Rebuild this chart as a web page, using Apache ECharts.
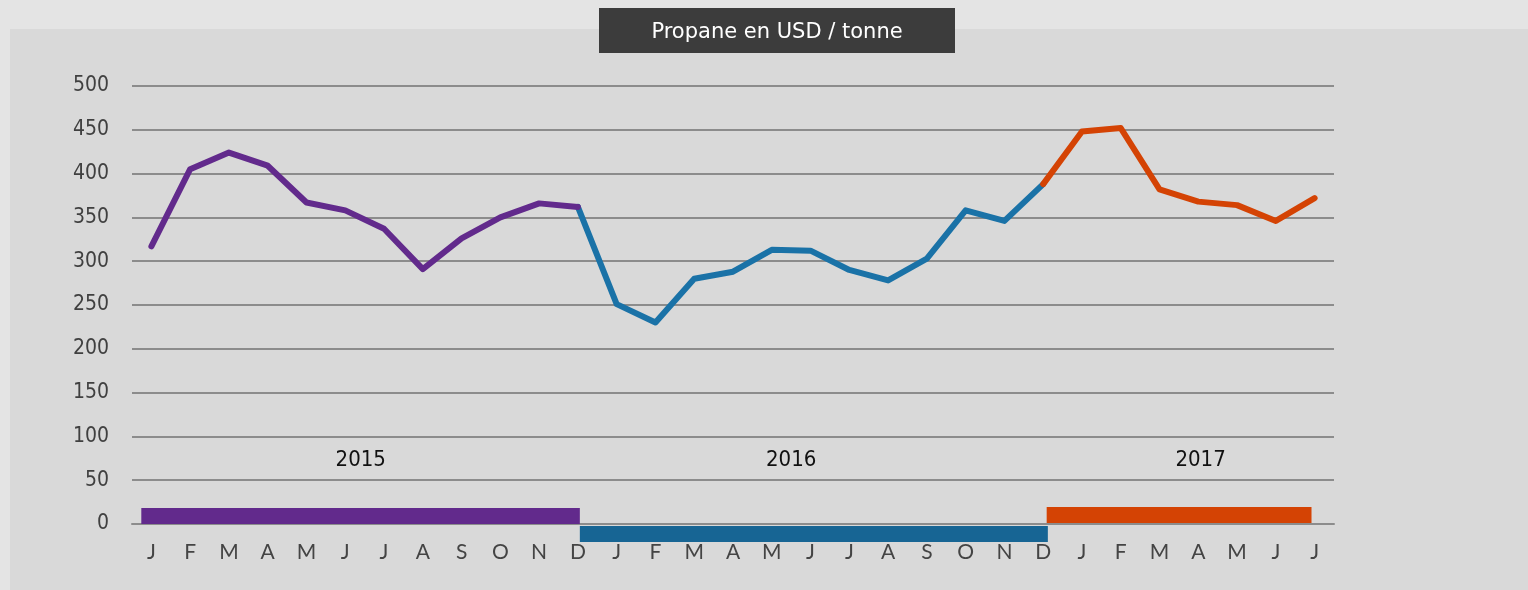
<!DOCTYPE html>
<html>
<head>
<meta charset="utf-8">
<script src="https://cdn.jsdelivr.net/npm/echarts@6/dist/echarts.min.js"></script>
<style>
  html, body { margin: 0; padding: 0; }
  #wrap { position: relative; width: 1528px; height: 590px; background: #e4e4e4; overflow: hidden; }
  #panel { position: absolute; left: 10px; top: 29px; right: 0; bottom: 0; background: #d9d9d9; }
  #chart { position: absolute; left: 0; top: 0; width: 1528px; height: 590px; }
</style>
</head>
<body>
<div id="wrap"><div id="panel"></div><div id="chart"></div></div>
<script>
// ---- data ----
const title = 'Propane en USD / tonne';
const months = ['J','F','M','A','M','J','J','A','S','O','N','D',
                'J','F','M','A','M','J','J','A','S','O','N','D',
                'J','F','M','A','M','J','J'];
const prices2015 = [317, 405, 424, 409, 367, 358, 337, 291, 326, 350, 366, 362];
const prices2016 = [251, 230, 280, 288, 313, 312, 290, 278, 303, 358, 346, 388];
const prices2017 = [448, 452, 382, 368, 364, 346, 372];
const years = ['2015', '2016', '2017'];
// year bands in category-index units: [start, end, label position]
const yearBandStart = [-0.26, 11.05, 23.09];
const yearBandEnd   = [11.05, 23.12, 29.92];
const yearLabelAt   = [5.4, 16.5, 27.06];
const yTicks = { min: 0, max: 500, interval: 50 };

// ---- styles ----
const colPurple = '#622a8c';
const colBlueLine = '#1a72a7';
const colBlueBar = '#176594';
const colOrange = '#d44304';
const bandColors = [colPurple, colBlueBar, colOrange];

// build series arrays (nulls outside each year's span)
const n = months.length;
function span(startIdx, vals) {
  const arr = new Array(n).fill(null);
  vals.forEach((v, i) => { arr[startIdx + i] = v; });
  return arr;
}
const s2015 = span(0, prices2015);
const s2016 = span(11, [prices2015[11]].concat(prices2016));
const s2017 = span(23, [prices2016[11]].concat(prices2017));

const bandData = years.map((y, i) => [yearBandStart[i], yearBandEnd[i], yearLabelAt[i]]);

const chart = echarts.init(document.getElementById('chart'), null, { renderer: 'canvas' });
const lineStyleBase = { width: 6, cap: 'round', join: 'round' };
const option = {
  backgroundColor: 'transparent',
  animation: false,
  graphic: [{
    type: 'group', left: 599, top: 8,
    children: [
      { type: 'rect', shape: { x: 0, y: 0, width: 356, height: 45 }, style: { fill: '#3c3c3c' } },
      { type: 'text', x: 178, y: 24.5, style: { text: title, fill: '#ffffff', font: '21px "DejaVu Sans", sans-serif', align: 'center', verticalAlign: 'middle' } }
    ]
  }],
  grid: { left: 132, right: 194, top: 86, bottom: 66, containLabel: false },
  xAxis: {
    type: 'category', data: months, boundaryGap: true,
    axisLine: { show: true, lineStyle: { color: '#8c8c8c', width: 2 } },
    axisTick: { show: false },
    axisLabel: { interval: 0, color: '#444444', fontSize: 21, fontFamily: 'Lato, "DejaVu Sans", sans-serif', margin: 18 },
    splitLine: { show: false }
  },
  yAxis: {
    type: 'value', min: yTicks.min, max: yTicks.max, interval: yTicks.interval,
    axisLine: { show: false }, axisTick: { show: false },
    axisLabel: { color: '#404040', fontSize: 21, fontFamily: '"DejaVu Sans Condensed", "DejaVu Sans", sans-serif', margin: 23 },
    splitLine: { show: true, lineStyle: { color: '#8c8c8c', width: 2 } }
  },
  series: [
    { name: '2016', type: 'line', data: s2016, showSymbol: false, symbol: 'none', connectNulls: false,
      lineStyle: Object.assign({ color: colBlueLine }, lineStyleBase), z: 3 },
    { name: '2015', type: 'line', data: s2015, showSymbol: false, symbol: 'none',
      lineStyle: Object.assign({ color: colPurple }, lineStyleBase), z: 4 },
    { name: '2017', type: 'line', data: s2017, showSymbol: false, symbol: 'none',
      lineStyle: Object.assign({ color: colOrange }, lineStyleBase), z: 4 },
    { name: 'years', type: 'custom', data: bandData, z: 5, clip: false,
      renderItem: function (params, api) {
        const i = params.dataIndex;
        const a = api.coord([0, 0]);
        const b = api.coord([1, 0]);
        const step = b[0] - a[0];
        const xOf = v => a[0] + v * step;
        const axisY = a[1];
        const h = 16;
        const up = i !== 1;
        const y = up ? axisY - h - (i === 2 ? 1 : 0) : axisY + 2;
        const x0 = xOf(api.value(0)), x1 = xOf(api.value(1));
        return { type: 'group', children: [
          { type: 'rect', shape: { x: x0, y: y, width: x1 - x0, height: h }, style: { fill: bandColors[i] } },
          { type: 'text', style: { text: years[i], x: xOf(api.value(2)), y: axisY - 64, align: 'center', verticalAlign: 'middle',
              fill: '#111111', font: '22px "DejaVu Sans Condensed", "DejaVu Sans", sans-serif' } }
        ] };
      }
    }
  ]
};
chart.setOption(option);
</script>
</body>
</html>
